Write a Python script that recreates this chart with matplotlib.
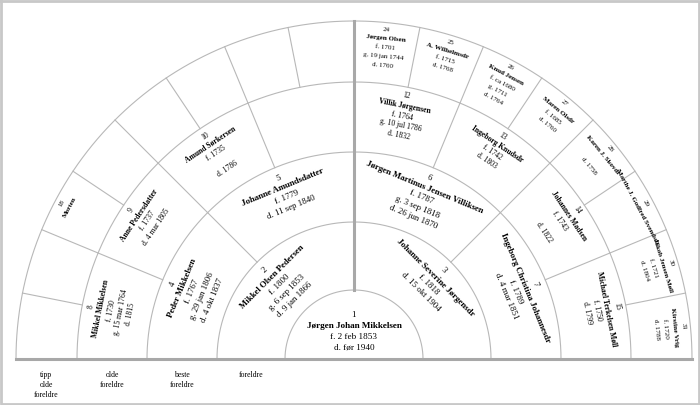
import matplotlib.pyplot as plt
import numpy as np

# Anetavle / vifte: person number -> name and dates
person_ids = [1, 2, 3, 4, 5, 6, 7, 8, 9, 10, 12, 13, 14, 15,
              18, 24, 25, 26, 27, 28, 29, 30, 31]
names = ["Jørgen Johan Mikkelsen",
         "Mikkel Olsen Pedersen",
         "Johanne Severine Jørgensdr",
         "Peder Mikkelsen",
         "Johanne Amundsdatter",
         "Jørgen Martinus Jensen Villiksen",
         "Ingeborg Christina Johannesdr",
         "Mikkel Mikkelsen",
         "Anne Pedersdatter",
         "Amund Sørkersen",
         "Villik Jørgensen",
         "Ingeborg Knudsdr",
         "Johannes Madsen",
         "Michael Terkelsen Møll",
         "Morten",
         "Jørgen Olsen",
         "A. Wilhelmsdr",
         "Knud Jensen",
         "Maren Olsdr",
         "Karen J. Skovdr",
         "Marthe J. Godfred Svendsdr",
         "Jakob Jensen Møll",
         "Kirstine Vrig"]
facts = [["f. 2 feb 1853", "d. før 1940"],
         ["f. 1800", "g. 6 sep 1853", "d. 9 jan 1866"],
         ["f. 1818", "d. 15 okt 1904"],
         ["f. 1767", "g. 29 jan 1806", "d. 4 okt 1837"],
         ["f. 1779", "d. 11 sep 1840"],
         ["f. 1787", "g. 3 sep 1818", "d. 26 jun 1870"],
         ["f. 1789", "d. 4 mar 1851"],
         ["f. 1730", "g. 15 mar 1764", "d. 1815"],
         ["f. 1737", "d. 4 mar 1805"],
         ["f. 1735", "", "d. 1786"],
         ["f. 1764", "g. 10 jul 1786", "d. 1832"],
         ["f. 1742", "d. 1803"],
         ["f. 1743", "", "d. 1822"],
         ["f. 1750", "d. 1799"],
         [],
         ["f. 1701", "g. 19 jan 1744", "d. 1760"],
         ["f. 1715", "d. 1768"],
         ["f. ca 1680", "g. 1711", "d. 1764"],
         ["f. 1685", "d. 1760"],
         ["", "d. 1758"],
         [],
         ["f. 1721", "d. 1804"],
         ["f. 1720", "d. 1788"]]

generation_labels = ["tipp\nolde\nforeldre", "olde\nforeldre", "beste\nforeldre", "foreldre"]

# geometry (pixels)
cx, cy = 354, 359
radii = [0, 69, 137, 207, 277, 338]
line_col = "#b8b8b8"
thick_col = "#a8a8a8"
font = "Liberation Serif"

fig = plt.figure(figsize=(7, 4.05), dpi=100)
ax = fig.add_axes([0, 0, 1, 1])
ax.set_xlim(0, 700)
ax.set_ylim(405, 0)
ax.axis("off")


def pt(r, deg):
    a = np.radians(deg)
    return cx + r * np.cos(a), cy - r * np.sin(a)


# arcs and sector dividers
t = np.linspace(0, 180, 400)
for g in range(1, 6):
    xs, ys = pt(radii[g], t)
    ax.plot(xs, ys, color=line_col, lw=0.8)
for g in range(1, 5):
    n = 2 ** g
    for k in range(1, n):
        a = 180 - k * 180 / n
        x0, y0 = pt(radii[g], a)
        x1, y1 = pt(radii[g + 1], a)
        ax.plot([x0, x1], [y0, y1], color=line_col, lw=0.8)

# thick split line and baseline
ax.plot([cx, cx], [cy - radii[1], cy - radii[5]], color=thick_col, lw=2.2)
ax.plot([cx - radii[5], cx + radii[5]], [cy, cy], color=thick_col, lw=2.2)

# frame
ax.plot([1, 699, 699, 1, 1], [1, 1, 404, 404, 1], color="#c8c8c8", lw=2)

# person texts
for pid, name, fact in zip(person_ids, names, facts):
    g = int(np.log2(pid))
    k = pid - 2 ** g
    span = 180 / 2 ** g
    mid = 180 - (k + 0.5) * span
    lines = [str(pid), name] + fact
    if g == 0:
        step, fs, r0 = 11, 6.6, 44
    elif g < 3:
        step, fs, r0 = 10.5, 6.3, radii[g + 1] - 11
    elif g == 3:
        step, fs, r0 = 10, 5.5, radii[g + 1] - 9
    else:
        step, fs, r0 = 9, 5.0, radii[g + 1] - 7
    for i, s in enumerate(lines):
        if not s:
            continue
        x, y = pt(r0 - i * step, mid)
        ax.text(x, y, s, rotation=mid - 90, rotation_mode="anchor",
                ha="center", va="center", fontsize=fs, family=font,
                fontweight="bold" if i == 1 else "normal")

# generation labels under the fan
for g, lab in zip(range(4, 0, -1), generation_labels):
    xm = cx - (radii[g] + radii[g + 1]) / 2
    ax.text(xm, 371, lab, ha="center", va="top", fontsize=5.6,
            family=font, linespacing=1.35)

fig.savefig("out.png", dpi=100)
